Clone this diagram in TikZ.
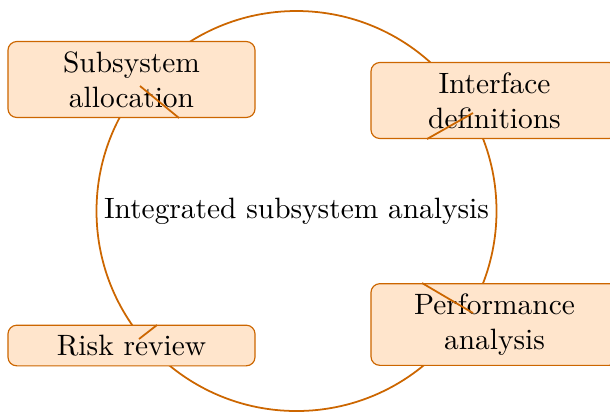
\documentclass[tikz,border=0pt]{standalone}
\usepackage{tikz}

\colorlet{ringcol}{orange!80!black}

\begin{document}
\begin{tikzpicture}[x=0.34pt,y=-0.34pt,
  stage/.style={draw=ringcol,fill=orange!20,rounded corners=3pt,
    minimum width=84pt,align=center},
  ring/.style={draw=ringcol,semithick}]
\useasboundingbox (0,0) rectangle (610,411);

\node[ring,circle,minimum size=136pt,inner sep=0pt] (hub) at (296.5,211)
  {Integrated subsystem analysis};

\node[stage] (alloc) at (131.5,79.5) {Subsystem\\allocation};
\node[stage] (iface) at (494.5,100.5) {Interface\\definitions};
\node[stage] (perf) at (494.5,324.5) {Performance\\analysis};
\node[stage] (risk) at (131.5,345.5) {Risk review};

% ticks on the ring
\draw[ring] (140,86) -- (179,118);
\draw[ring] (427,139) -- (473,113);
\draw[ring] (422,283) -- (473,313);
\draw[ring] (157,325) -- (139,339);
\end{tikzpicture}
\end{document}
